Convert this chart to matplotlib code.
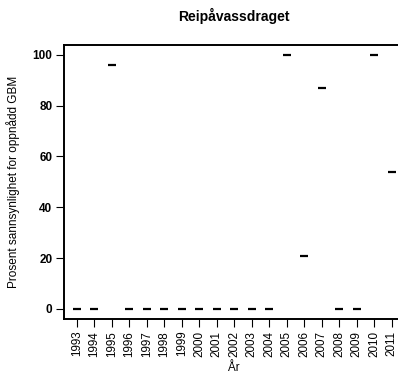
import matplotlib
matplotlib.use('Agg')
import matplotlib.pyplot as plt

# Data
years = list(range(1993, 2012))
prosent = [0, 0, 96, 0, 0, 0, 0, 0, 0, 0, 0, 0, 100, 21, 87, 0, 0, 100, 54]
y_ticks = [0, 20, 40, 60, 80, 100]

plt.rcParams['font.family'] = ['Liberation Sans', 'DejaVu Sans']

fig = plt.figure(figsize=(3.98, 3.78), dpi=100)
# R-style plot box; right side runs past the image edge as in the original
ax = fig.add_axes([0.161, 0.156, 1.016 - 0.161, 0.882 - 0.156])

ax.plot(years, prosent, linestyle='none', marker='_', color='black',
        markersize=6, markeredgewidth=1.6)

ax.set_xlim(1993 - 0.72, 2011 + 0.72)
ax.set_ylim(-4, 104)

ax.set_xticks(years)
ax.set_xticklabels([str(y) for y in years], rotation=90, fontsize=8.4)
ax.set_yticks(y_ticks)
ax.set_yticklabels([str(v) for v in y_ticks], fontsize=8.5, fontweight='bold')

ax.tick_params(axis='both', length=5.5, width=0.8, color='black')
ax.tick_params(axis='x', pad=3)
ax.tick_params(axis='y', pad=3)

for s in ax.spines.values():
    s.set_linewidth(1.4)

ax.set_xlabel('År', fontsize=8.4, labelpad=4)
ax.set_ylabel('Prosent sannsynlighet for oppnådd GBM', fontsize=8.5, labelpad=9)
ax.set_title('Reipåvassdraget', fontsize=10, fontweight='bold', pad=17)

fig.savefig('out.png', dpi=100)
